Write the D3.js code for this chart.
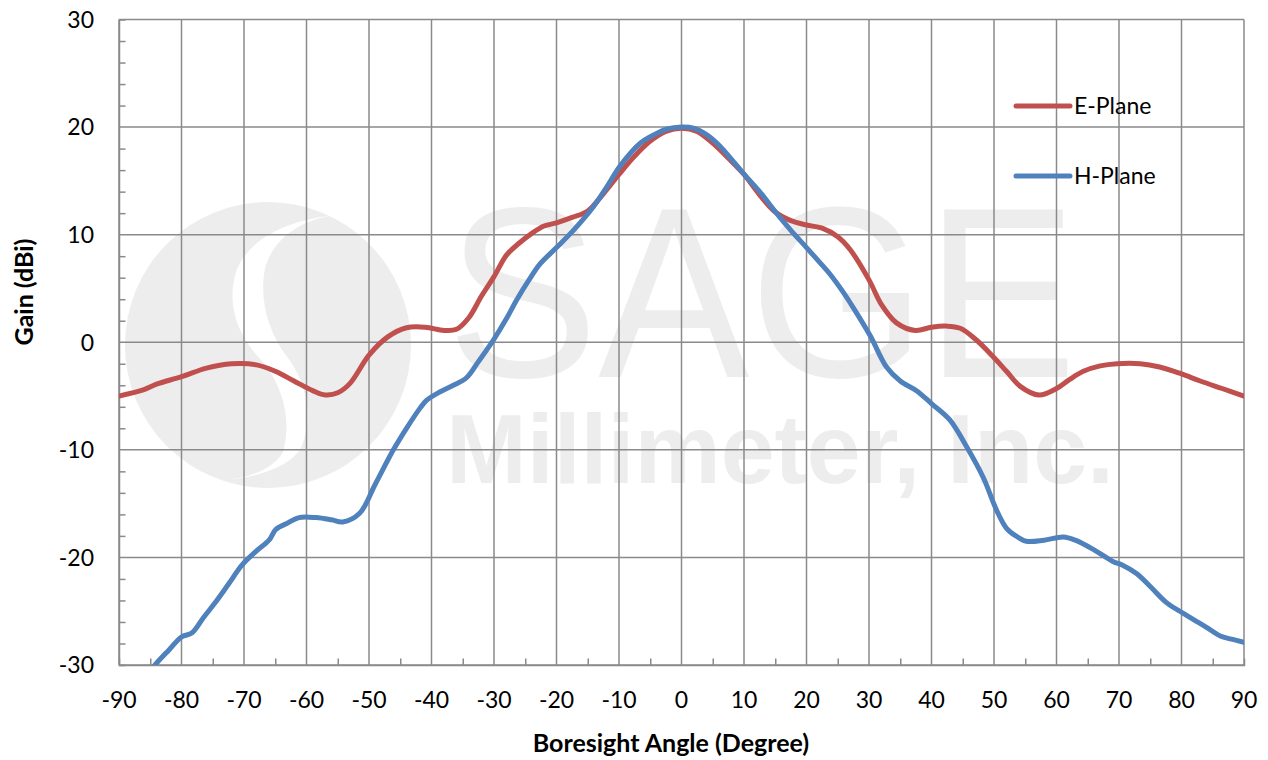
<!DOCTYPE html>
<html>
<head>
<meta charset="utf-8">
<script src="https://cdn.jsdelivr.net/npm/d3@7"></script>
<style>
  html, body { margin: 0; padding: 0; background: #fff; }
  svg { display: block; }
</style>
</head>
<body>
<div id="chart"></div>
<script>
// E-plane gain
const eAngle = [-90, -86, -84, -80, -76, -72, -68, -65, -62, -59, -57, -55, -53, -50, -47, -44, -41, -38, -36, -34, -32, -30, -28, -26, -24, -22, -20, -17.5, -15, -12.5, -10, -7.5, -5, -2.5, 0,
  2.5, 5, 7.5, 10, 12.5, 15, 17.5, 20, 22.5, 25, 27, 30, 32, 34.4, 37.4, 40, 42.4, 44.6, 47, 49.8, 52, 54.2, 57.2, 60, 62, 64.3, 67, 69.7, 73.4, 76.5, 79.8, 83, 86.5, 90]
const eGain = [-5.0, -4.4, -3.9, -3.2, -2.4, -2.0, -2.1, -2.7, -3.6, -4.5, -4.9, -4.7, -3.8, -1.2, 0.5, 1.35, 1.4, 1.1, 1.2, 2.3, 4.3, 6.1, 8.1, 9.2, 10.1, 10.8, 11.1, 11.6, 12.2, 13.8, 15.6, 17.3, 18.7, 19.6, 19.9,
  19.6, 18.5, 17.1, 15.6, 13.7, 12.1, 11.3, 10.9, 10.6, 9.8, 8.6, 5.8, 3.5, 1.8, 1.1, 1.4, 1.5, 1.3, 0.3, -1.3, -2.7, -4.1, -4.9, -4.3, -3.5, -2.7, -2.2, -2.0, -2.0, -2.3, -2.9, -3.6, -4.3, -5.0]

// H-plane gain
const hAngle = [-86, -84.4, -82, -80, -78.3, -76.5, -74.6, -72.5, -70.3, -68, -66, -64.9, -63, -61.2, -58.5, -56, -54.2, -51.5, -49, -46.1, -44, -41.8, -40.8, -38.6, -36.5, -34.4, -32.5, -30.1, -28, -26.4, -24.5, -22.6, -20, -17.3, -14.1, -12, -9.8, -6.6, -4, -2.4, 0,
  1.9, 4, 6.2, 8, 9.9, 12.5, 15.2, 17.5, 20, 22, 23.8, 25.7, 27.5, 30.2, 32.8, 35, 37.6, 40, 42.9, 45.6, 48.3, 50.4, 52, 53.5, 55.2, 58, 61.1, 63, 66, 69.1, 70.5, 72.8, 75, 77.6, 80.3, 82, 84, 86.2, 88, 90]
const hGain = [-31.3, -30.1, -28.6, -27.4, -27.0, -25.6, -24.2, -22.5, -20.7, -19.4, -18.4, -17.4, -16.8, -16.3, -16.3, -16.5, -16.7, -15.9, -13.2, -10.0, -8.0, -6.1, -5.4, -4.6, -4.0, -3.3, -1.8, 0.2, 2.2, 3.9, 5.7, 7.3, 8.8, 10.4, 12.6, 14.4, 16.4, 18.5, 19.4, 19.8, 20.0,
  19.9, 19.3, 18.2, 17.0, 15.7, 14.0, 12.0, 10.4, 8.8, 7.5, 6.3, 4.8, 3.2, 0.6, -2.3, -3.6, -4.5, -5.7, -7.2, -9.7, -12.6, -15.6, -17.3, -18.0, -18.5, -18.4, -18.1, -18.4, -19.3, -20.4, -20.7, -21.5, -22.7, -24.2, -25.2, -25.8, -26.5, -27.3, -27.6, -27.9]

const xTicks = d3.range(-90, 91, 10)
const yTicks = d3.range(-30, 31, 10)
const seriesNames = ['E-Plane', 'H-Plane']
const seriesColors = ['#C0504D', '#4F81BD']

const width = 1268
const height = 760
const margin = { top: 19.5, right: 24, bottom: 95, left: 119 }
const gridColor = '#8a8a8a'
const font = 'Lato, "Open Sans", sans-serif'

const svg = d3.select('#chart').append('svg')
  .attr('width', width)
  .attr('height', height)

const x = d3.scaleLinear().domain([-90, 90]).range([margin.left, width - margin.right])
const y = d3.scaleLinear().domain([-30, 30]).range([height - margin.bottom, margin.top])

// 剪裁区域
svg.append('clipPath').attr('id', 'plot-clip')
  .append('rect')
  .attr('x', x(-90)).attr('y', y(30))
  .attr('width', x(90) - x(-90)).attr('height', y(-30) - y(30))

// watermark (logo + company name)
const wm = svg.append('g').attr('fill', '#ededed')
wm.append('circle').attr('cx', 268).attr('cy', 345).attr('r', 143)
wm.append('path')
  .attr('fill', '#fff')
  .attr('d', 'M330,216 C290,220 248,238 236,272 C226,305 238,337 263,362 C283,387 292,420 283,452 C273,470 245,480 215,481' +
    ' C252,479 288,469 301,448 C313,420 308,385 288,358 C268,332 259,300 265,268 C274,238 300,221 330,216 Z')
wm.append('text')
  .attr('x', 447).attr('y', 377)
  .attr('font-family', '"Liberation Sans", Arial, sans-serif')
  .attr('font-size', 244)
  .attr('textLength', 630).attr('lengthAdjust', 'spacingAndGlyphs')
  .text('SAGE')
wm.append('text')
  .attr('x', 446).attr('y', 483)
  .attr('font-family', '"Liberation Sans", Arial, sans-serif')
  .attr('font-weight', 'bold')
  .attr('font-size', 98)
  .attr('textLength', 668).attr('lengthAdjust', 'spacingAndGlyphs')
  .text('Millimeter, Inc.')

// 网格线
const grid = svg.append('g').attr('stroke', gridColor).attr('stroke-width', 1.5)
grid.selectAll('line.v').data(xTicks).join('line')
  .attr('x1', d => x(d)).attr('x2', d => x(d))
  .attr('y1', y(30)).attr('y2', y(-30))
grid.selectAll('line.h').data(yTicks).join('line')
  .attr('x1', x(-90)).attr('x2', x(90))
  .attr('y1', d => y(d)).attr('y2', d => y(d))

// y axis with minor ticks inside
const yAxis = d3.axisRight(y)
  .tickValues(d3.range(-30, 31, 2).filter(d => d % 10 !== 0))
  .tickSize(6.5).tickFormat('')
svg.append('g').attr('transform', `translate(${x(-90)},0)`).call(yAxis)
  .call(g => g.select('.domain').attr('stroke', gridColor).attr('stroke-width', 1.5))
  .call(g => g.selectAll('.tick line').attr('stroke', gridColor).attr('stroke-width', 1.5))

// x axis minor ticks pointing up
const xAxis = d3.axisTop(x)
  .tickValues(d3.range(-85, 90, 10))
  .tickSize(6.5).tickFormat('')
svg.append('g').attr('transform', `translate(0,${y(-30)})`).call(xAxis)
  .call(g => g.select('.domain').attr('stroke', gridColor).attr('stroke-width', 1.5))
  .call(g => g.selectAll('.tick line').attr('stroke', gridColor).attr('stroke-width', 1.5))

// tick labels
svg.append('g').selectAll('text').data(yTicks).join('text')
  .attr('x', 94).attr('y', d => y(d))
  .attr('dy', '0.36em')
  .attr('text-anchor', 'end')
  .attr('font-family', font).attr('font-size', 23).attr('fill', '#000')
  .text(d => d)
svg.append('g').selectAll('text').data(xTicks).join('text')
  .attr('x', d => x(d)).attr('y', 708)
  .attr('text-anchor', 'middle')
  .attr('font-family', font).attr('font-size', 23).attr('fill', '#000')
  .text(d => d)

// axis titles
svg.append('text')
  .attr('transform', `translate(33,292) rotate(-90)`)
  .attr('text-anchor', 'middle')
  .attr('font-family', font).attr('font-weight', 'bold').attr('font-size', 25)
  .text('Gain (dBi)')
svg.append('text')
  .attr('x', 671).attr('y', 752)
  .attr('text-anchor', 'middle')
  .attr('font-family', font).attr('font-weight', 'bold').attr('font-size', 25)
  .text('Boresight Angle (Degree)')

// 曲线
const line = d3.line()
  .x(d => x(d[0]))
  .y(d => y(d[1]))
  .curve(d3.curveCatmullRom.alpha(0.5))

const series = [
  d3.zip(eAngle, eGain),
  d3.zip(hAngle, hGain)
]

svg.append('g').attr('clip-path', 'url(#plot-clip)')
  .selectAll('path').data(series).join('path')
  .attr('d', line)
  .attr('fill', 'none')
  .attr('stroke', (d, i) => seriesColors[i])
  .attr('stroke-width', 5)
  .attr('stroke-linejoin', 'round')
  .attr('stroke-linecap', 'round')

// legend
const legend = svg.append('g').selectAll('g').data(seriesNames).join('g')
  .attr('transform', (d, i) => `translate(1016,${106 + i * 70})`)
legend.append('line')
  .attr('x1', 0).attr('x2', 54)
  .attr('stroke', (d, i) => seriesColors[i])
  .attr('stroke-width', 5)
  .attr('stroke-linecap', 'round')
legend.append('text')
  .attr('x', 58).attr('dy', '0.36em')
  .attr('font-family', font).attr('font-size', 23)
  .text(d => d)
</script>
</body>
</html>
